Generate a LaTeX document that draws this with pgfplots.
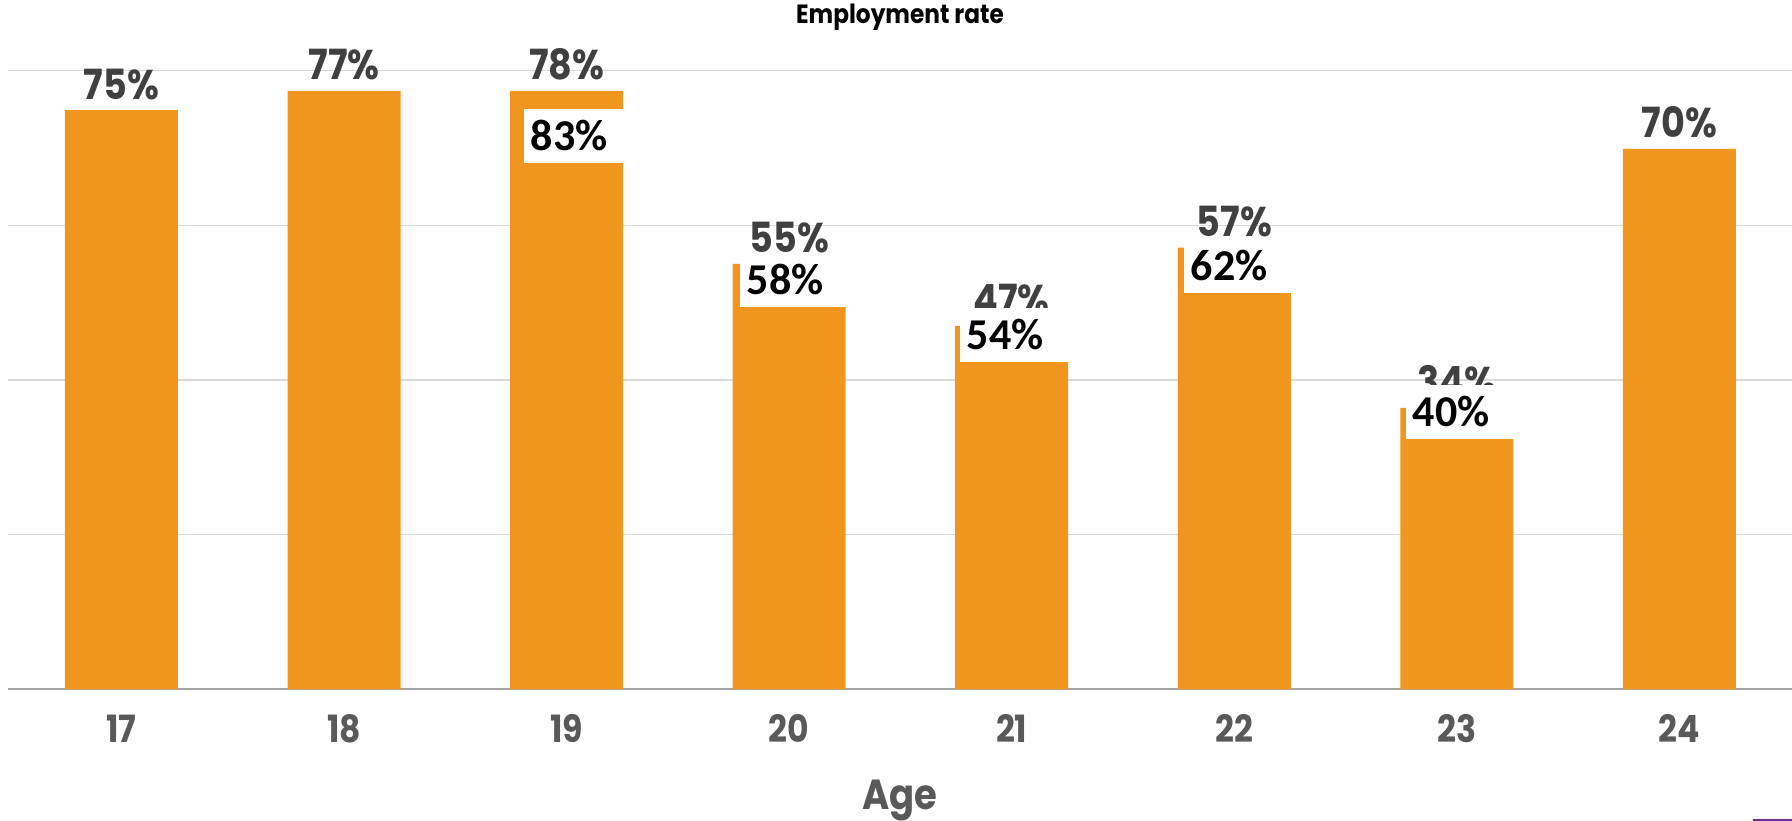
\documentclass[border=0pt]{standalone}
\usepackage{pgfplots}
\pgfplotsset{compat=1.18}
\usepackage{fontspec}
\setmainfont{Poppins}
\newfontfamily\gothic[FakeStretch=0.88]{Poppins}
\newfontfamily\calib{Carlito}
\definecolor{barorange}{HTML}{F0961E}
\definecolor{lblgray}{HTML}{404040}
\definecolor{tickgray}{HTML}{595959}
\definecolor{gridgray}{HTML}{D9D9D9}
\definecolor{axgray}{HTML}{A6A6A6}
\definecolor{cornerpurple}{HTML}{6B2D8F}
\begin{document}
\begin{tikzpicture}
\begin{axis}[
  scale only axis, width=892pt, height=344.65pt,
  xmin=-0.51, xmax=7.506, ymin=0, ymax=89.14,
  clip=false,
  axis lines*=left,
  x axis line style={draw=axgray, line width=1pt},
  y axis line style={draw=none},
  xtick={0,...,7}, xticklabels={17,18,19,20,21,22,23,24},
  ytick={0,20,40,60,80}, yticklabels={},
  major tick length=0pt,
  ymajorgrids, grid style={draw=gridgray, line width=0.75pt},
  x tick label style={font=\gothic\bfseries\fontsize{18.8pt}{21pt}\selectfont, text=tickgray, anchor=base, yshift=-26.85pt},
  xlabel={Age},
  xlabel style={at={(axis description cs:0.5,0)}, anchor=base, yshift=-59.9pt, font=\gothic\bfseries\fontsize{21pt}{24pt}\selectfont, text=tickgray},
]
\addplot[ybar, bar width=56.5pt, bar shift=0pt, fill=barorange, draw=none,
  point meta=explicit symbolic, nodes near coords,
  nodes near coords style={font=\gothic\bfseries\fontsize{20.8pt}{24pt}\selectfont, text=lblgray, anchor=base, inner sep=0pt, yshift=5.5pt}]
  coordinates {(0,74.9) [75\%] (1,77.4) [77\%] (2,77.4) [78\%] (3,55.0) [55\%] (4,47.0) [47\%] (5,57.1) [57\%] (6,36.4) [34\%] (7,69.9) [70\%]};
\addplot[draw=none, mark=none, point meta=explicit symbolic, nodes near coords,
  nodes near coords style={font=\calib\bfseries\fontsize{22pt}{24pt}\selectfont, text=black, fill=white, anchor=south west, inner ysep=0pt, inner xsep=3.25pt, text width=52pt, align=left, minimum height=27pt}]
  coordinates {(1.808,68.06) [83\%] (2.779,49.43) [58\%] (3.767,42.33) [54\%] (4.774,51.26) [62\%] (5.771,32.37) [40\%]};
\node[anchor=base, font=\gothic\bfseries\fontsize{13.2pt}{15pt}\selectfont, text=black] at ([yshift=-12pt]axis description cs:0.5,1) {Employment rate};
\fill[cornerpurple] (axis cs:7.330,-16.77) rectangle (axis cs:7.506,-17.03);
\coordinate (bbBL) at (axis cs:-0.5459,-17.03);
\coordinate (bbTR) at (axis cs:7.506,89.14);
\end{axis}
\pgfresetboundingbox
\path[use as bounding box] (bbBL) rectangle (bbTR);
\end{tikzpicture}
\end{document}
